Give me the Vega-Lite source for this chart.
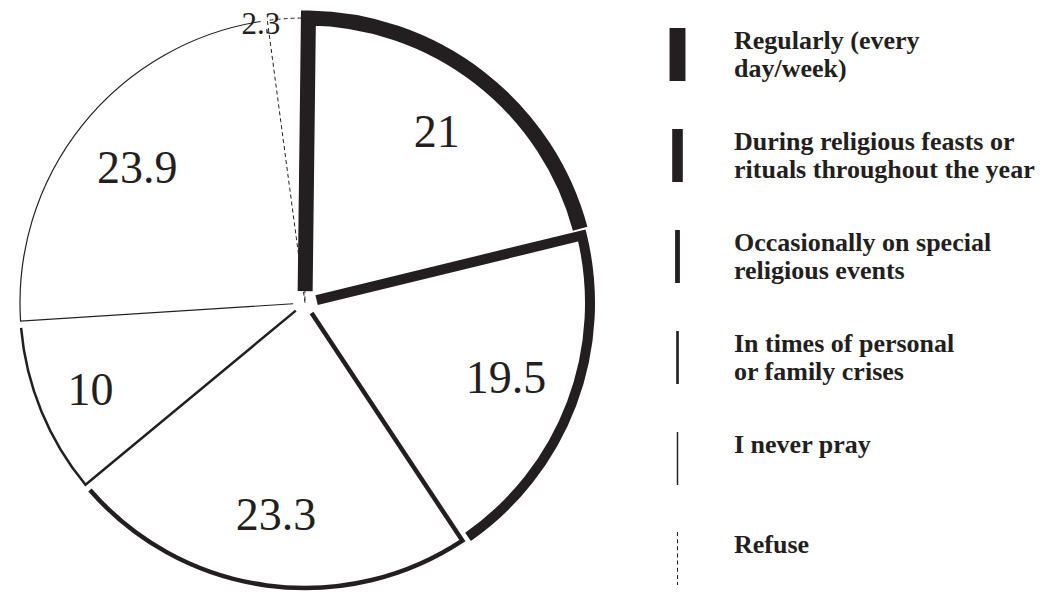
{
  "$schema": "https://vega.github.io/schema/vega-lite/v6.json",
  "width": 610,
  "height": 606,
  "padding": {"top": -12, "left": 0, "right": 0, "bottom": 0},
  "background": "white",
  "config": {"view": {"stroke": null}},
  "data": {
    "values": [
      {"category": "Regularly (every day/week)", "value": 21},
      {"category": "During religious feasts or rituals throughout the year", "value": 19.5},
      {"category": "Occasionally on special religious events", "value": 23.3},
      {"category": "In times of personal or family crises", "value": 10},
      {"category": "I never pray", "value": 23.9},
      {"category": "Refuse", "value": 2.3}
    ]
  },
  "transform": [{"window": [{"op": "row_number", "as": "idx"}]}],
  "encoding": {
    "theta": {"field": "value", "type": "quantitative", "stack": true},
    "order": {"field": "idx", "type": "quantitative"}
  },
  "layer": [
    {
      "mark": {"type": "arc", "filled": false, "radius": 285, "padAngle": 0.024,
        "strokeWidth": {"expr": "datum.category == 'Regularly (every day/week)' ? 15 : datum.category == 'During religious feasts or rituals throughout the year' ? 10 : datum.category == 'Occasionally on special religious events' ? 4.5 : datum.category == 'In times of personal or family crises' ? 2.5 : datum.category == 'I never pray' ? 1.2 : 1"},
        "strokeDash": {"expr": "datum.category == 'Refuse' ? [4, 3] : [285 * (datum.value * 2 * PI / 100 - 0.024) + 273, 2000]"}},
      "encoding": {
        "color": {
          "field": "category", "type": "nominal",
          "scale": {"domain": ["Regularly (every day/week)", "During religious feasts or rituals throughout the year", "Occasionally on special religious events", "In times of personal or family crises", "I never pray", "Refuse"], "range": ["#231f20", "#231f20", "#231f20", "#231f20", "#231f20", "#231f20"]},
          "legend": {
            "title": null, "orient": "none", "legendX": 651, "legendY": 28,
            "symbolType": "M0,-1L0,1", "symbolSize": 2809, "symbolStrokeWidth": 0, "symbolFillColor": "#231f20",
            "labelFont": "Liberation Serif", "labelFontSize": 26, "labelFontWeight": "bold", "labelColor": "#231f20",
            "labelLimit": 0, "labelOffset": 30, "rowPadding": 46, "labelBaseline": "line-bottom",
            "labelExpr": "datum.label == 'Regularly (every day/week)' ? ['Regularly (every', 'day/week)'] : datum.label == 'During religious feasts or rituals throughout the year' ? ['During religious feasts or', 'rituals throughout the year'] : datum.label == 'Occasionally on special religious events' ? ['Occasionally on special', 'religious events'] : datum.label == 'In times of personal or family crises' ? ['In times of personal', 'or family crises'] : datum.label",
            "encode": {
              "symbols": {
                "update": {
                  "shape": {"signal": "datum.value == 'Regularly (every day/week)' ? 'M-0.3,-1H0.3V1H-0.3Z' : datum.value == 'During religious feasts or rituals throughout the year' ? 'M-0.2,-1H0.2V1H-0.2Z' : datum.value == 'Occasionally on special religious events' ? 'M-0.09,-1H0.09V1H-0.09Z' : datum.value == 'In times of personal or family crises' ? 'M-0.05,-1H0.05V1H-0.05Z' : datum.value == 'I never pray' ? 'M-0.028,-1H0.028V1H-0.028Z' : 'M-0.02,-1H0.02V-0.85H-0.02Z M-0.02,-0.73H0.02V-0.58H-0.02Z M-0.02,-0.46H0.02V-0.31H-0.02Z M-0.02,-0.19H0.02V-0.04H-0.02Z M-0.02,0.08H0.02V0.23H-0.02Z M-0.02,0.35H0.02V0.5H-0.02Z M-0.02,0.62H0.02V0.77H-0.02Z M-0.02,0.89H0.02V1H-0.02Z'"},
                  "fill": {"value": "#231f20"},
                  "strokeWidth": {"value": 0},
                  "opacity": {"value": 1}
                }
              }
            }
          }
        }
      }
    },
    {
      "mark": {"type": "text", "font": "Liberation Serif", "color": "#231f20", "baseline": "middle", "align": "center",
        "radius": {"expr": "datum.value < 5 ? 281 : datum.value < 15 ? 232 : 215"},
        "thetaOffset": {"expr": "datum.value < 5 ? -0.085 : 0"}},
      "encoding": {
        "text": {"field": "value", "type": "quantitative"},
        "size": {"condition": {"test": "datum.value < 5", "value": 31}, "value": 46}
      }
    }
  ]
}
